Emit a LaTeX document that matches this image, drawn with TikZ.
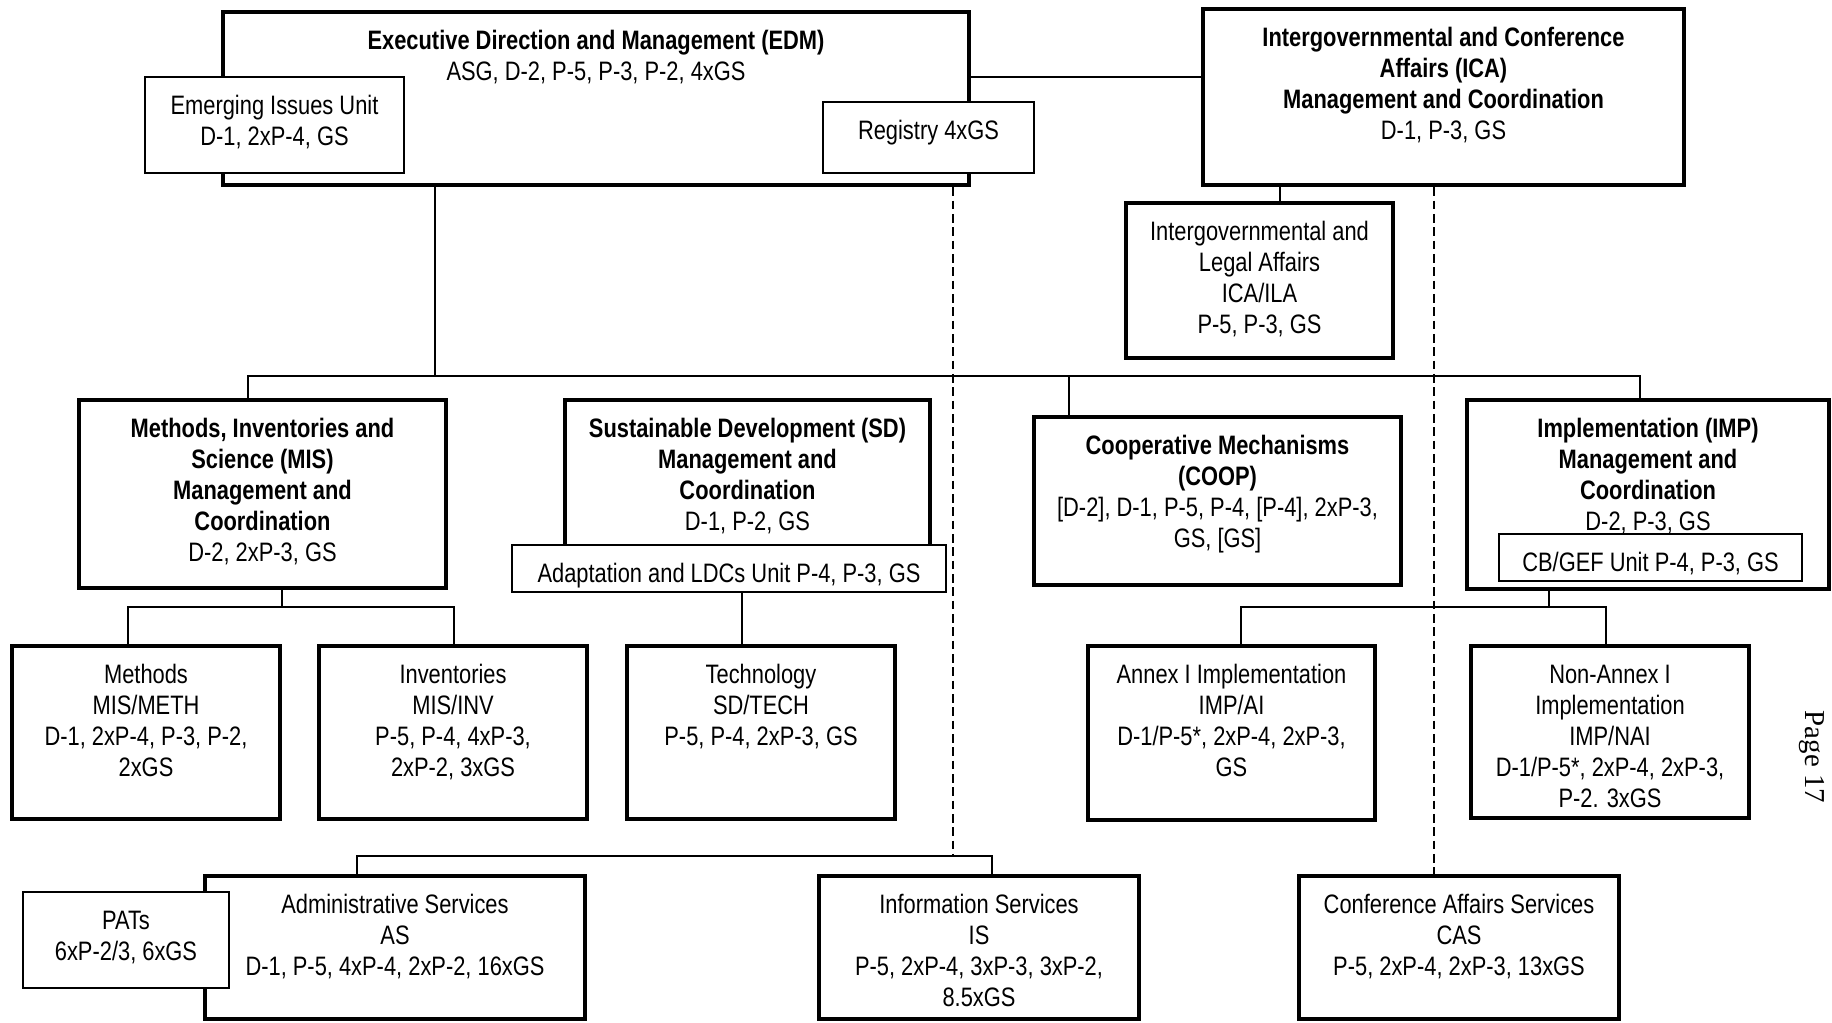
\documentclass[tikz,border=0pt]{standalone}
\usepackage{fontspec}
\setmainfont{Liberation Sans}[FakeStretch=0.82]
\newfontfamily\pagefont{Liberation Serif}
\newlength\px
\setlength\px{0.45pt}
\tikzstyle{link}=[line width=0.6pt]
\tikzstyle{dashlink}=[line width=0.6pt, dash pattern=on 4pt off 2pt]
\tikzstyle{heavy}=[line width=2pt]
\tikzstyle{medium}=[line width=1.5pt]
\tikzstyle{light}=[line width=0.7pt]
\tikzset{
  unit/.style 2 args={draw, fill=white, inner sep=0pt,
    execute at begin node={\begin{minipage}[c][#2\px][t]{#1\px}\fontsize{12pt}{14pt}\selectfont\centering\vspace*{7pt}\strut},
    execute at end node={\end{minipage}}},
}

\begin{document}
\begin{tikzpicture}[x=0.45pt,y=-0.45pt]
\useasboundingbox (0,0) rectangle (1832,1022);

% top row
\node[unit={746}{173},heavy] (edm) at (596,98.5) {\textbf{Executive Direction and Management (EDM)}\\ASG, D-2, P-5, P-3, P-2, 4xGS};
\node[unit={259}{96},light] (emerg) at (274.5,125) {Emerging Issues Unit\\D-1, 2xP-4, GS};
\node[unit={211}{71},light] (registry) at (928.5,137.5) {Registry 4xGS};
\node[unit={481}{176},heavy] (ica) at (1443.5,97) {\textbf{Intergovernmental and Conference}\\\textbf{Affairs (ICA)}\\\textbf{Management and Coordination}\\D-1, P-3, GS};
\node[unit={267}{155},medium] (ila) at (1259.5,280.5) {Intergovernmental and\\Legal Affairs\\ICA/ILA\\P-5, P-3, GS};

% divisions
\node[unit={367}{188},heavy] (mis) at (262.5,494) {\textbf{Methods, Inventories and}\\\textbf{Science (MIS)}\\\textbf{Management and}\\\textbf{Coordination}\\D-2, 2xP-3, GS};
\node[unit={365}{165},heavy] (sd) at (747.5,482.5) {\textbf{Sustainable Development (SD)}\\\textbf{Management and}\\\textbf{Coordination}\\D-1, P-2, GS};
\node[unit={434}{47},light] (adapt) at (729,568.5) {Adaptation and LDCs Unit P-4, P-3, GS};
\node[unit={367}{168},heavy] (coop) at (1217.5,501) {\textbf{Cooperative Mechanisms}\\\textbf{(COOP)}\\{}[D-2], D-1, P-5, P-4, [P-4], 2xP-3,\\GS, [GS]};
\node[unit={362}{189},heavy] (imp) at (1648,494.5) {\textbf{Implementation (IMP)}\\\textbf{Management and}\\\textbf{Coordination}\\D-2, P-3, GS};
\node[unit={303}{47},light] (cbgef) at (1650.5,557.5) {CB/GEF Unit P-4, P-3, GS};

% programmes
\node[unit={268}{173},medium] (meth) at (146,732.5) {Methods\\MIS/METH\\D-1, 2xP-4, P-3, P-2,\\2xGS};
\node[unit={268}{173},medium] (inv) at (453,732.5) {Inventories\\MIS/INV\\P-5, P-4, 4xP-3,\\2xP-2, 3xGS};
\node[unit={268}{173},medium] (tech) at (761,732.5) {Technology\\SD/TECH\\P-5, P-4, 2xP-3, GS};
\node[unit={287}{174},medium] (annex) at (1231.5,733) {Annex I Implementation\\IMP/AI\\D-1/P-5*, 2xP-4, 2xP-3,\\GS};
\node[unit={278}{172},medium] (nonannex) at (1610,732) {Non-Annex I\\Implementation\\IMP/NAI\\D-1/P-5*, 2xP-4, 2xP-3,\\P-2. 3xGS};

% services
\node[unit={380}{143},medium] (as) at (395,947.5) {Administrative Services\\AS\\D-1, P-5, 4xP-4, 2xP-2, 16xGS};
\node[unit={206}{96},light] (pats) at (126,940) {PATs\\6xP-2/3, 6xGS};
\node[unit={320}{143},medium] (is) at (979,947.5) {Information Services\\IS\\P-5, 2xP-4, 3xP-3, 3xP-2,\\8.5xGS};
\node[unit={320}{143},medium] (cas) at (1459,947.5) {Conference Affairs Services\\CAS\\P-5, 2xP-4, 2xP-3, 13xGS};

\node[rotate=-90,font=\pagefont\fontsize{13pt}{15pt}\selectfont] (pagenum) at (1812,757) {Page 17};

% junctions
\coordinate (j1) at (435,376);
\coordinate (j2) at (248,376);
\coordinate (j3) at (1069,376);
\coordinate (j4) at (1640,376);
\coordinate (j5) at (0,77);
\coordinate (j6) at (1280,0);
\coordinate (j7) at (742,0);
\coordinate (m0) at (282,607);
\coordinate (m1) at (128,607);
\coordinate (m2) at (454,607);
\coordinate (i0) at (1549,607);
\coordinate (i1) at (1241,607);
\coordinate (i2) at (1606,607);
\coordinate (b1) at (357,856);
\coordinate (b2) at (992,856);
\coordinate (d1) at (953,856);
\coordinate (d2) at (1434,0);

\draw[link] (edm.east |- j5) -- (ica.west |- j5);
\draw[link] (ica.south -| j6) -- (ila.north -| j6);
\draw[link] (edm.south -| j1) -- (j1);
\draw[link] (mis.north -| j2) -- (j2) -- (j4) -- (imp.north -| j4);
\draw[link] (j3) -- (coop.north -| j3);
\draw[link] (mis.south -| m0) -- (m0);
\draw[link] (meth.north -| m1) -- (m1) -- (m2) -- (inv.north -| m2);
\draw[link] (adapt.south -| j7) -- (tech.north -| j7);
\draw[link] (imp.south -| i0) -- (i0);
\draw[link] (annex.north -| i1) -- (i1) -- (i2) -- (nonannex.north -| i2);
\draw[link] (as.north -| b1) -- (b1) -- (b2) -- (is.north -| b2);
\draw[dashlink] (edm.south -| d1) -- (d1);
\draw[dashlink] (ica.south -| d2) -- (cas.north -| d2);
\end{tikzpicture}
\end{document}
